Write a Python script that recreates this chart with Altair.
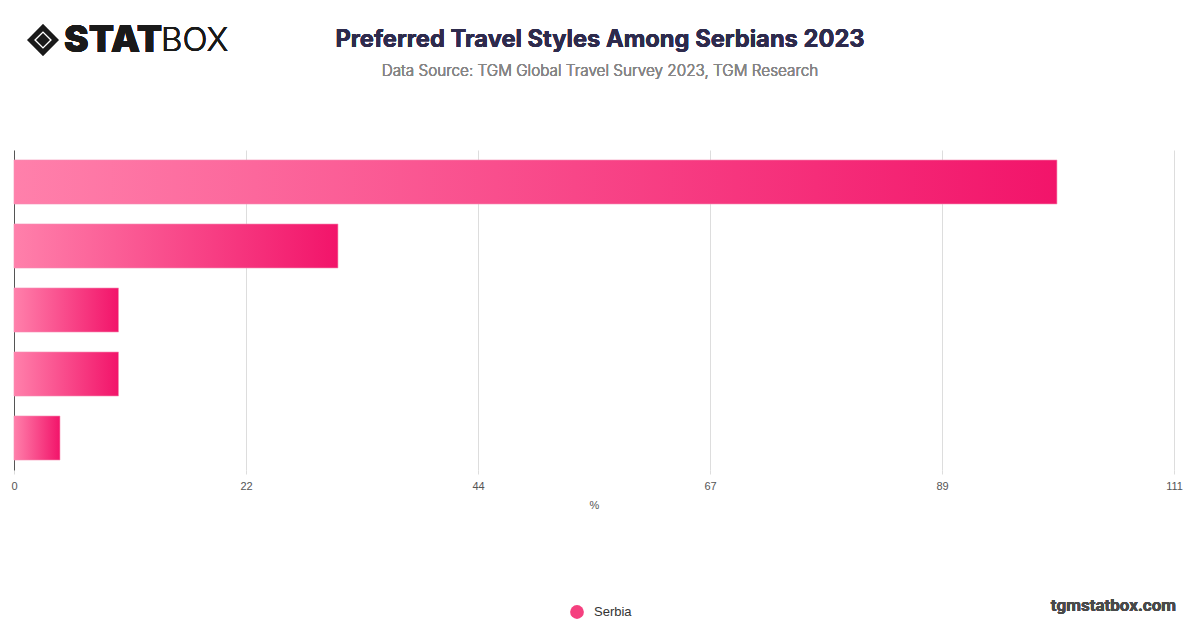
import altair as alt
import pandas as pd

# ---- data ----
categories = ["Independent travel", "Package holidays", "Group tours", "Backpacking", "Luxury travel"]
values = [99.8, 31.0, 10.0, 10.0, 4.4]
series = ["Serbia"] * len(categories)
x_ticks = [0, 22.2, 44.4, 66.6, 88.8, 111]
x_domain = [0, 111]

title_text = "Preferred Travel Styles Among Serbians 2023"
subtitle_text = "Data Source: TGM Global Travel Survey 2023, TGM Research"
axis_title = "%"
watermark = "tgmstatbox.com"

df = pd.DataFrame({"style": categories, "value": values, "country": series})

grad = alt.LinearGradient(
    gradient="linear",
    stops=[alt.GradientStop(color="#ff80ab", offset=0),
           alt.GradientStop(color="#f2146a", offset=1)],
    x1=0, x2=1, y1=0, y2=0,
)

base = alt.Chart(df)

bars = base.mark_bar(color=grad, stroke="#f78fb3", strokeWidth=0.6).encode(
    x=alt.X("value:Q",
            scale=alt.Scale(domain=x_domain, nice=False, zero=True),
            axis=alt.Axis(values=x_ticks, format=".0f", title=axis_title, grid=True,
                          gridColor="#dddddd", domain=False, tickSize=4, tickColor="#dddddd",
                          labelPadding=6, labelFlush=False, labelOverlap=False,
                          labelColor="#555555", labelFontSize=11, labelFont="Liberation Sans",
                          titleColor="#555555", titleFontSize=11, titleFontWeight="normal",
                          titleFont="Liberation Sans", titlePadding=8)),
    y=alt.Y("style:N", sort=categories,
            scale=alt.Scale(paddingInner=0.3125, paddingOuter=0.156),
            axis=alt.Axis(labels=False, ticks=False, title=None, domain=True,
                          domainColor="#555555", domainWidth=1, grid=False)),
)

legend_layer = base.mark_point(filled=True, opacity=0, shape="circle").encode(
    x="value:Q",
    y=alt.Y("style:N", sort=categories),
    color=alt.Color("country:N", scale=alt.Scale(range=["#f5407f"]),
                    legend=alt.Legend(orient="none", legendX=555, legendY=454, title=None,
                                      symbolOpacity=1, symbolType="circle", symbolSize=190,
                                      labelOffset=9,
                                      labelFontSize=13, labelColor="#333333",
                                      labelFont="Liberation Sans", padding=0)),
)

def txt(text, x, y, size, color, weight="normal", align="center", font="Inter"):
    return alt.Chart(df).mark_text(text=text, fontSize=size, color=color, fontWeight=weight,
                                   align=align, baseline="middle", font=font).encode(
        x=alt.value(x), y=alt.value(y))

title = txt(title_text, 586, -110, 23.7, "#2e2b4d", "bold")
subtitle = txt(subtitle_text, 586, -79, 15.3, "#858585", 300, font="Inter")
logo_outer = alt.Chart(df).mark_point(shape="diamond", filled=False, stroke="#1a1a1a",
                                      strokeWidth=4.5, size=620).encode(
    x=alt.value(29), y=alt.value(-110))
logo_inner = alt.Chart(df).mark_point(shape="diamond", filled=True, color="#1a1a1a",
                                      opacity=1, size=170).encode(
    x=alt.value(29), y=alt.value(-110))
logo_stat = txt("STAT", 50, -109, 37, "#1a1a1a", 900, "left")
logo_box = txt("BOX", 147, -109, 33, "#1a1a1a", 300, "left")
wm = txt(watermark, 1162, 456, 17, "#4a4a4a", "bold", "right", font="Roboto")

chart = alt.layer(bars, legend_layer, title, subtitle, logo_outer, logo_inner,
                  logo_stat, logo_box, wm).properties(
    width=1160, height=320,
    autosize=alt.AutoSizeParams(type="none"),
    padding={"left": 6, "top": 142, "right": 18, "bottom": 150},
    background="white",
).configure_view(stroke=None)

chart.save("out.html", embed_options={"renderer": "svg", "actions": False})
